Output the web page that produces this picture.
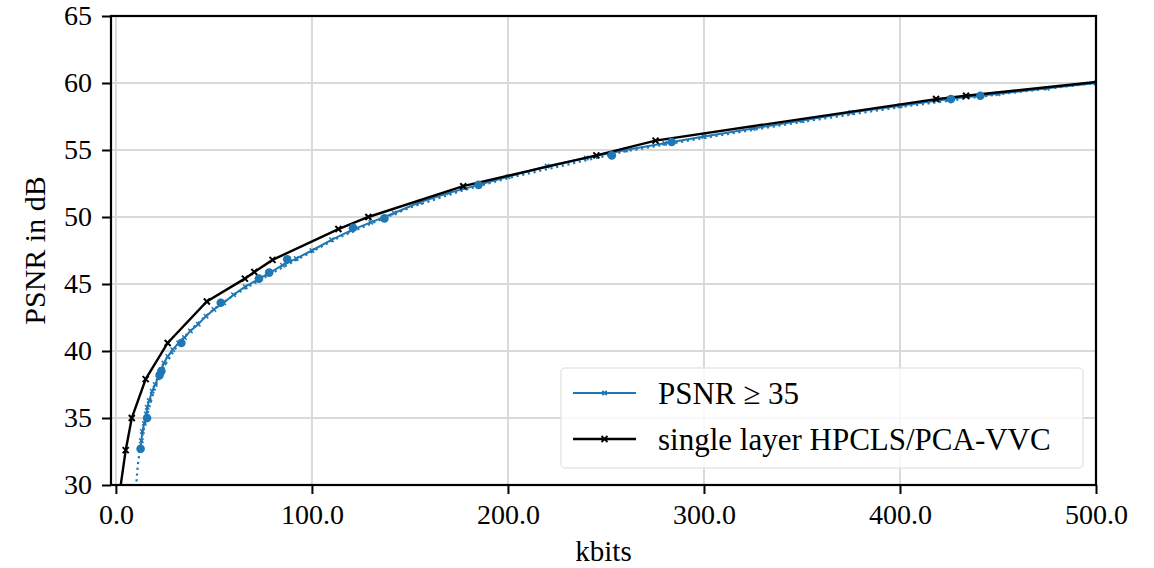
<!DOCTYPE html>
<html>
<head>
<meta charset="utf-8">
<script src="https://cdn.jsdelivr.net/npm/d3@7"></script>
<style>
	body { margin: 0; background: #fff; }
</style>
</head>
<body>
<div class="svg-container"></div>
<script>
const w = 1154;
const h = 568;

const margin = {left: 111, right: 58, top: 16, bottom: 83};
const serif = 'Liberation Serif, Times New Roman, DejaVu Serif, serif';

// single layer HPCLS/PCA-VVC (kbits, PSNR)
const singleKbits = [1.0, 5.0, 8.1, 15.2, 26.4, 46.4, 65.8, 70.6, 79.9, 113.5, 128.8, 177.2, 245.1, 275.3, 418.4, 433.7, 560];
const singlePsnr = [28.5, 32.6, 35.0, 37.9, 40.6, 43.7, 45.4, 45.9, 46.8, 49.1, 50.0, 52.3, 54.6, 55.7, 58.8, 59.05, 61.0];

// PSNR >= 35 (dense runs)
const layerKbits = [12.5, 13.0, 13.5, 14.5, 15.5, 16.0, 17.0, 18.5, 20.0, 21.5, 23.0, 24.5, 26.5, 29.0, 32.0, 35.0, 38.0, 42.0, 46.0, 50.0, 55.0, 60.0, 66.0, 72.0, 78.0, 85.0, 92.0, 100, 110, 120, 130, 142, 155, 170, 185, 200, 220, 240, 260, 280, 300, 325, 350, 375, 400, 425, 450, 475, 500];
const layerPsnr = [32.6, 33.3, 34.0, 34.6, 35.3, 35.8, 36.3, 37.0, 37.5, 38.0, 38.6, 39.1, 39.6, 40.1, 40.6, 41.0, 41.5, 42.0, 42.6, 43.1, 43.6, 44.2, 44.8, 45.3, 45.8, 46.4, 46.9, 47.5, 48.3, 49.0, 49.6, 50.3, 51.1, 51.8, 52.4, 53.0, 53.8, 54.4, 55.0, 55.5, 56.0, 56.6, 57.2, 57.8, 58.3, 58.8, 59.2, 59.6, 60.0];

// selected operating points
const pointKbits = [12.6, 15.9, 22.3, 23.2, 33.4, 53.5, 73.0, 78.2, 87.4, 121.0, 137.0, 185.0, 253.0, 283.5, 426.0, 441.0];
const pointPsnr = [32.7, 35.0, 38.2, 38.5, 40.6, 43.6, 45.4, 45.85, 46.85, 49.2, 49.9, 52.4, 54.6, 55.6, 58.8, 59.05];

// fitted curve (dotted)
const fitKbits = [10.2, 10.6, 11.2, 12.0, 13.0, 14.2, 15.6, 17.2, 19.0, 21.0, 23.5, 26.5, 30.0, 34.0, 39.0, 45.0, 52.0, 60.0, 70.0, 82.0, 96.0, 112, 130, 150, 175, 200, 230, 260, 300, 350, 400, 450, 500, 520];
const fitPsnr = [29.4, 30.5, 31.5, 32.4, 33.3, 34.2, 35.0, 35.9, 36.8, 37.6, 38.5, 39.3, 40.1, 40.9, 41.7, 42.5, 43.35, 44.15, 45.0, 46.0, 47.1, 48.35, 49.5, 50.7, 51.9, 52.9, 53.9, 54.9, 55.9, 57.1, 58.2, 59.15, 60.0, 60.3];

const xTicks = [0, 100, 200, 300, 400, 500];
const yTicks = [30, 35, 40, 45, 50, 55, 60, 65];

const blue = '#1f77b4';

const svg = d3
	.select('.svg-container')
	.append('svg')
	.attr('width', w)
	.attr('height', h)
	.attr('font-family', serif)
	.style('display', 'block');

const xScale = d3
	.scaleLinear()
	.domain([-2.5, 500])
	.range([margin.left, w - margin.right]);

const yScale = d3
	.scaleLinear()
	.domain([30, 65])
	.range([h - margin.bottom, margin.top]);

svg
	.append('clipPath')
	.attr('id', 'plot-clip')
	.append('rect')
	.attr('x', margin.left)
	.attr('y', margin.top)
	.attr('width', w - margin.left - margin.right)
	.attr('height', h - margin.top - margin.bottom);

// grid
const grid = svg.append('g').attr('stroke', '#d9d9d9').attr('stroke-width', 2);
grid
	.selectAll('.gx')
	.data(xTicks)
	.enter()
	.append('line')
	.attr('x1', d => xScale(d))
	.attr('x2', d => xScale(d))
	.attr('y1', margin.top)
	.attr('y2', h - margin.bottom);
grid
	.selectAll('.gy')
	.data(yTicks)
	.enter()
	.append('line')
	.attr('x1', margin.left)
	.attr('x2', w - margin.right)
	.attr('y1', d => yScale(d))
	.attr('y2', d => yScale(d));

const plot = svg.append('g').attr('clip-path', 'url(#plot-clip)');

const line = d3
	.line()
	.x(d => xScale(d[0]))
	.y(d => yScale(d[1]));

const zip = (a, b) => a.map((v, i) => [v, b[i]]);

const crossPath = s => `M${-s},${-s}L${s},${s}M${-s},${s}L${s},${-s}`;

// PSNR >= 35 line with small x markers
const layerData = zip(layerKbits, layerPsnr);
plot
	.append('path')
	.datum(layerData)
	.attr('fill', 'none')
	.attr('stroke', blue)
	.attr('stroke-width', 2)
	.attr('d', line);
plot
	.selectAll('.layer-mark')
	.data(layerData)
	.enter()
	.append('path')
	.attr('transform', d => `translate(${xScale(d[0])},${yScale(d[1])})`)
	.attr('d', crossPath(2.2))
	.attr('stroke', blue)
	.attr('stroke-width', 1.5);

// fitted curve
plot
	.append('path')
	.datum(zip(fitKbits, fitPsnr))
	.attr('fill', 'none')
	.attr('stroke', blue)
	.attr('stroke-width', 2.2)
	.attr('stroke-dasharray', '2.2,3.6')
	.attr('d', line);

// single layer
const singleData = zip(singleKbits, singlePsnr);
plot
	.append('path')
	.datum(singleData)
	.attr('fill', 'none')
	.attr('stroke', '#000')
	.attr('stroke-width', 2.4)
	.attr('d', line);
plot
	.selectAll('.single-mark')
	.data(singleData)
	.enter()
	.append('path')
	.attr('transform', d => `translate(${xScale(d[0])},${yScale(d[1])})`)
	.attr('d', crossPath(3))
	.attr('stroke', '#000')
	.attr('stroke-width', 2);

// operating points
plot
	.selectAll('circle')
	.data(zip(pointKbits, pointPsnr))
	.enter()
	.append('circle')
	.attr('cx', d => xScale(d[0]))
	.attr('cy', d => yScale(d[1]))
	.attr('r', 4.3)
	.attr('fill', blue);

// axes
const xAxis = d3
	.axisBottom(xScale)
	.tickValues(xTicks)
	.tickFormat(d3.format('.1f'))
	.tickSize(9)
	.tickSizeOuter(0)
	.tickPadding(10);

const yAxis = d3
	.axisLeft(yScale)
	.tickValues(yTicks)
	.tickFormat(d3.format('d'))
	.tickSize(9)
	.tickSizeOuter(0)
	.tickPadding(10);

const gx = svg
	.append('g')
	.attr('transform', `translate(0, ${h - margin.bottom})`)
	.call(xAxis);
const gy = svg
	.append('g')
	.attr('transform', `translate(${margin.left}, 0)`)
	.call(yAxis);

[gx, gy].forEach(g => {
	g.attr('font-family', serif).attr('font-size', 28);
	g.select('.domain').remove();
	g.selectAll('.tick line').attr('stroke', '#000').attr('stroke-width', 2);
	g.selectAll('.tick text').attr('fill', '#000');
});

// frame
svg
	.append('rect')
	.attr('x', margin.left)
	.attr('y', margin.top)
	.attr('width', w - margin.left - margin.right)
	.attr('height', h - margin.top - margin.bottom)
	.attr('fill', 'none')
	.attr('stroke', '#000')
	.attr('stroke-width', 2.2);

svg
	.append('text')
	.attr('x', (margin.left + w - margin.right) / 2)
	.attr('y', 561)
	.attr('text-anchor', 'middle')
	.attr('font-size', 29)
	.text('kbits');

svg
	.append('text')
	.attr('transform', `translate(45, ${(margin.top + h - margin.bottom) / 2}) rotate(-90)`)
	.attr('text-anchor', 'middle')
	.attr('font-size', 30)
	.text('PSNR in dB');

// legend
const legend = svg.append('g').attr('id', 'legend');

legend
	.append('rect')
	.attr('x', 561)
	.attr('y', 368)
	.attr('width', 522)
	.attr('height', 100)
	.attr('rx', 4)
	.attr('fill', '#fff')
	.attr('fill-opacity', 0.8)
	.attr('stroke', '#e6e6e6')
	.attr('stroke-width', 1.5);

const legendItems = [
	{label: 'PSNR ≥ 35', color: blue, y: 393, lw: 2, ms: 2.2},
	{label: 'single layer HPCLS/PCA-VVC', color: '#000', y: 439, lw: 2.4, ms: 3},
];

legendItems.forEach(item => {
	const g = legend.append('g').attr('transform', `translate(0, ${item.y})`);
	g.append('line')
		.attr('x1', 573)
		.attr('x2', 636)
		.attr('stroke', item.color)
		.attr('stroke-width', item.lw);
	g.append('path')
		.attr('transform', 'translate(604.5, 0)')
		.attr('d', crossPath(item.ms))
		.attr('stroke', item.color)
		.attr('stroke-width', 1.8);
	g.append('text')
		.attr('x', 658)
		.attr('y', 11)
		.attr('font-size', 31)
		.text(item.label);
});
</script>
</body>
</html>
